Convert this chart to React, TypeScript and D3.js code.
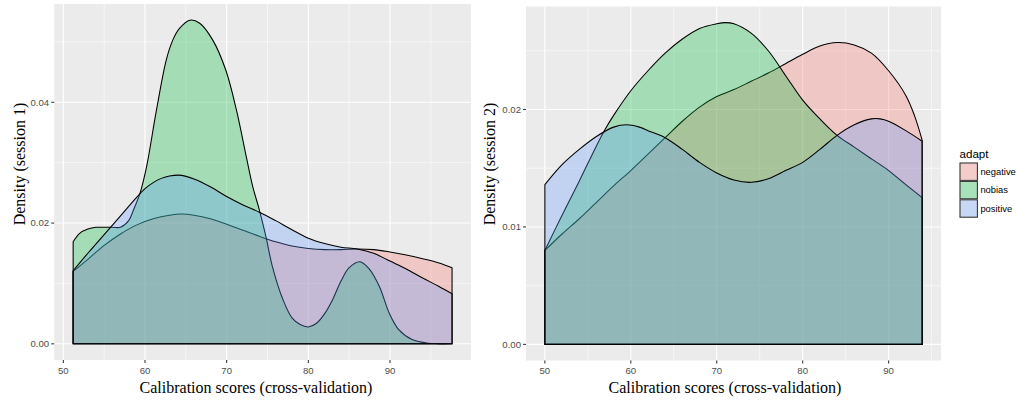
import React from "react";
import * as d3 from "d3";

// ---- data ----
const groups = ["negative", "nobias", "positive"];
const groupColors = ["#F8766D", "#00BA38", "#619CFF"];

// Session 1
const s1NegativeX = [51.2, 53, 55, 57, 59, 61, 63, 64.5, 66, 68, 70, 72, 74, 76, 78, 80, 82, 84, 86, 88, 90, 92, 94, 96, 97.6];
const s1NegativeY = [0.0120, 0.0140, 0.0163, 0.0182, 0.0197, 0.0207, 0.0213, 0.0215, 0.0213, 0.0207, 0.0198, 0.0188, 0.0178, 0.0169, 0.0162, 0.0158, 0.0156, 0.0156, 0.0157, 0.0156, 0.0152, 0.0147, 0.0141, 0.0134, 0.0126];

const s1NobiasX = [51.2, 52, 53, 54, 55, 56, 57, 58, 58.6, 59.4, 60.2, 61.4, 62.6, 63.4, 64.2, 65.5, 66.7, 68.3, 69.9, 71.2, 72.4, 73.2, 74, 74.8, 75.6, 76.9, 78, 79, 80, 81, 82, 83, 84, 85, 86.3, 87.4, 88.7, 89.9, 91.1, 92.7, 94.7, 97.6];
const s1NobiasY = [0.0169, 0.0183, 0.0190, 0.0193, 0.0193, 0.0193, 0.0193, 0.0204, 0.0222, 0.0250, 0.0294, 0.0387, 0.0470, 0.0503, 0.0522, 0.0536, 0.0531, 0.0503, 0.0453, 0.0387, 0.0310, 0.0260, 0.0222, 0.0178, 0.0128, 0.0073, 0.0043, 0.0032, 0.0028, 0.0034, 0.0050, 0.0074, 0.0104, 0.0126, 0.0136, 0.0125, 0.0095, 0.0051, 0.0023, 0.0007, 0.0001, 0.0000];

const s1PositiveX = [51.2, 53, 55, 57, 59, 60, 61, 62, 63, 64.5, 66, 68, 70, 72, 74, 76, 78, 80, 82, 84, 86, 88, 90, 92, 94, 96, 97.6];
const s1PositiveY = [0.0121, 0.0150, 0.0181, 0.0212, 0.0243, 0.0257, 0.0267, 0.0274, 0.0278, 0.0279, 0.0273, 0.0260, 0.0244, 0.0230, 0.0218, 0.0204, 0.0189, 0.0175, 0.0166, 0.0160, 0.0157, 0.0150, 0.0137, 0.0124, 0.0109, 0.0095, 0.0083];

// Session 2
const s2NegativeX = [50, 52, 54, 56, 58, 60, 62, 64, 66, 68, 70, 72, 74, 76, 78, 80, 82, 84, 86, 88, 90, 92, 93, 93.9];
const s2NegativeY = [0.0080, 0.0094, 0.0107, 0.0121, 0.0135, 0.0148, 0.0162, 0.0176, 0.0190, 0.0202, 0.0211, 0.0217, 0.0224, 0.0231, 0.0239, 0.0247, 0.0254, 0.0257, 0.0255, 0.0248, 0.0233, 0.0212, 0.0195, 0.0174];

const s2NobiasX = [50, 52, 54, 56, 57, 58, 60, 62, 64, 66, 68, 70, 71, 72, 74, 76, 78, 80, 82, 84, 86, 88, 90, 92, 93.9];
const s2NobiasY = [0.0080, 0.0110, 0.0139, 0.0169, 0.0183, 0.0195, 0.0216, 0.0233, 0.0248, 0.0260, 0.0269, 0.0273, 0.0274, 0.0273, 0.0265, 0.0250, 0.0229, 0.0208, 0.0192, 0.0178, 0.0168, 0.0158, 0.0148, 0.0136, 0.0125];

const s2PositiveX = [50, 52, 54, 56, 58, 59.5, 61, 62, 64, 66, 68, 70, 72, 74, 76, 78, 80, 82, 84, 86, 88, 89, 90, 92, 93.9];
const s2PositiveY = [0.0136, 0.0153, 0.0166, 0.0177, 0.0185, 0.0187, 0.0185, 0.0182, 0.0176, 0.0166, 0.0155, 0.0146, 0.0140, 0.0138, 0.0141, 0.0148, 0.0155, 0.0166, 0.0178, 0.0187, 0.0192, 0.0192, 0.0190, 0.0182, 0.0173];

const xTicks = [50, 60, 70, 80, 90];
const xMinorTicks = [55, 65, 75, 85, 95];
const s1YTicks = [0, 0.02, 0.04];
const s1YMinor = [0.01, 0.03, 0.05];
const s2YTicks = [0, 0.01, 0.02];
const s2YMinor = [0.005, 0.015, 0.025];

const xTitle = "Calibration scores (cross-validation)";
const legendTitle = "adapt";

type Series = { x: number[]; y: number[] };

const SANS = "'Liberation Sans', Arial, sans-serif";
const SERIF = "'Liberation Serif', 'Times New Roman', serif";

function Panel(props: {
  series: Series[];
  yTicks: number[];
  yMinor: number[];
  box: { l: number; r: number; t: number; b: number };
  yTitle: string;
  yTitleX: number;
  xTitleX: number;
  yTitleY: number;
}) {
  const { series, yTicks, yMinor, box, yTitle, yTitleX, xTitleX, yTitleY } = props;
  const allX = series.flatMap((s) => s.x);
  const allY = series.flatMap((s) => s.y);
  const [xmin, xmax] = d3.extent(allX) as [number, number];
  const ymax = d3.max(allY) as number;
  const xpad = (xmax - xmin) * 0.05;
  const x = d3.scaleLinear().domain([xmin - xpad, xmax + xpad]).range([box.l, box.r]);
  const y = d3.scaleLinear().domain([-0.05 * ymax, 1.05 * ymax]).range([box.b, box.t]);
  const area = d3
    .area<[number, number]>()
    .x((d) => x(d[0]))
    .y0(() => y(0))
    .y1((d) => y(Math.max(0, d[1])))
    .curve(d3.curveCatmullRom.alpha(0.5));
  const minorX = xMinorTicks.filter((v) => v >= x.domain()[0] && v <= x.domain()[1]);
  const minorY = yMinor.filter((v) => v >= y.domain()[0] && v <= y.domain()[1]);
  const fmt = d3.format(".2f");
  return (
    <g>
      <rect x={box.l} y={box.t} width={box.r - box.l} height={box.b - box.t} fill="#EBEBEB" />
      {minorX.map((v) => (
        <line key={"mx" + v} x1={x(v)} x2={x(v)} y1={box.t} y2={box.b} stroke="#fff" strokeWidth={0.55} />
      ))}
      {minorY.map((v) => (
        <line key={"my" + v} y1={y(v)} y2={y(v)} x1={box.l} x2={box.r} stroke="#fff" strokeWidth={0.55} />
      ))}
      {xTicks.map((v) => (
        <line key={"gx" + v} x1={x(v)} x2={x(v)} y1={box.t} y2={box.b} stroke="#fff" strokeWidth={1.07} />
      ))}
      {yTicks.map((v) => (
        <line key={"gy" + v} y1={y(v)} y2={y(v)} x1={box.l} x2={box.r} stroke="#fff" strokeWidth={1.07} />
      ))}
      {series.map((s, i) => (
        <path
          key={"a" + i}
          d={area(s.x.map((v, j) => [v, s.y[j]] as [number, number])) || ""}
          fill={groupColors[i]}
          fillOpacity={0.3}
          stroke="#000"
          strokeWidth={1.07}
          strokeLinejoin="round"
        />
      ))}
      {xTicks.map((v) => (
        <g key={"tx" + v}>
          <line x1={x(v)} x2={x(v)} y1={box.b} y2={box.b + 2.9} stroke="#333" strokeWidth={1.07} />
          <text x={x(v)} y={box.b + 13.5} textAnchor="middle" fontFamily={SANS} fontSize={9.6} fill="#4D4D4D">
            {v}
          </text>
        </g>
      ))}
      {yTicks.map((v) => (
        <g key={"ty" + v}>
          <line x1={box.l - 2.9} x2={box.l} y1={y(v)} y2={y(v)} stroke="#333" strokeWidth={1.07} />
          <text x={box.l - 5} y={y(v) + 3.4} textAnchor="end" fontFamily={SANS} fontSize={9.6} fill="#4D4D4D">
            {fmt(v)}
          </text>
        </g>
      ))}
      <text x={xTitleX} y={393} textAnchor="middle" fontFamily={SERIF} fontSize={16} fill="#000">
        {xTitle}
      </text>
      <text
        transform={`translate(${yTitleX},${yTitleY}) rotate(-90)`}
        textAnchor="middle"
        fontFamily={SERIF}
        fontSize={16}
        fill="#000"
      >
        {yTitle}
      </text>
    </g>
  );
}

export default function App() {
  const s1: Series[] = [
    { x: s1NegativeX, y: s1NegativeY },
    { x: s1NobiasX, y: s1NobiasY },
    { x: s1PositiveX, y: s1PositiveY },
  ];
  const s2: Series[] = [
    { x: s2NegativeX, y: s2NegativeY },
    { x: s2NobiasX, y: s2NobiasY },
    { x: s2PositiveX, y: s2PositiveY },
  ];
  const keyX = 959.5;
  const keyTop = 162.5;
  const keySize = 18.4;
  return (
    <svg
      width={1018}
      height={400}
      style={{ position: "absolute", left: 0, top: 0, background: "#fff" }}
    >
      <rect x={0} y={0} width={1018} height={400} fill="#fff" />
      <Panel
        series={s1}
        yTicks={s1YTicks}
        yMinor={s1YMinor}
        box={{ l: 54.2, r: 471, t: 4, b: 360 }}
        yTitle="Density (session 1)"
        yTitleX={25}
        yTitleY={164}
        xTitleX={256}
      />
      <Panel
        series={s2}
        yTicks={s2YTicks}
        yMinor={s2YMinor}
        box={{ l: 526, r: 941, t: 6.5, b: 360.5 }}
        yTitle="Density (session 2)"
        yTitleX={495}
        yTitleY={164}
        xTitleX={725}
      />
      <g>
        <text x={keyX} y={157.5} fontFamily={SANS} fontSize={11.6} fill="#000">
          {legendTitle}
        </text>
        {groups.map((g, i) => (
          <g key={g}>
            <rect x={keyX} y={keyTop + i * keySize} width={keySize} height={keySize} fill="#F2F2F2" />
            <rect
              x={keyX + 0.5}
              y={keyTop + i * keySize + 0.5}
              width={keySize - 1}
              height={keySize - 1}
              fill={groupColors[i]}
              fillOpacity={0.3}
              stroke="#333"
              strokeWidth={1.07}
            />
            <text x={keyX + keySize + 2.5} y={keyTop + i * keySize + keySize / 2 + 3.3} fontFamily={SANS} fontSize={9.4} fill="#000">
              {g}
            </text>
          </g>
        ))}
      </g>
    </svg>
  );
}
